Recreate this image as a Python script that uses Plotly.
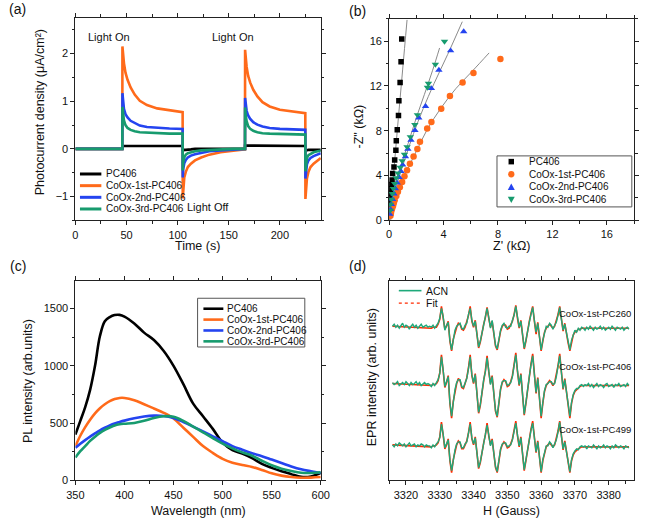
import numpy as np
import plotly.graph_objects as go

# ---------------- (a) photocurrent ----------------
t_s = [0, 45.9, 46, 46.5, 47.5, 49, 51, 54, 58, 63, 70, 80, 92, 104.9, 105, 105.5, 106.5, 108, 110, 113,
       117, 123, 131, 142, 155, 165.9, 166, 166.5, 167.5, 169, 171, 174, 178, 183, 190, 200, 212, 224.9,
       225, 225.5, 226.5, 228, 230, 233, 237, 240]
j_pc406 = [0, 0, 0.06, 0.06, 0.06, 0.06, 0.06, 0.06, 0.06, 0.06, 0.06, 0.06, 0.06, 0.06,
           -0.04, -0.03, -0.02, -0.02, -0.01, -0.01, 0, 0, 0, 0, 0, 0,
           0.07, 0.07, 0.07, 0.07, 0.07, 0.07, 0.07, 0.07, 0.07, 0.07, 0.06, 0.06,
           -0.04, -0.03, -0.03, -0.02, -0.02, -0.02, -0.02, -0.02]
j_1st = [0, 0, 2.15, 1.98, 1.80, 1.60, 1.45, 1.29, 1.14, 1.01, 0.92, 0.85, 0.81, 0.77,
         -1.04, -0.80, -0.60, -0.48, -0.38, -0.31, -0.24, -0.18, -0.12, -0.07, -0.03, -0.01,
         2.08, 1.90, 1.72, 1.53, 1.39, 1.24, 1.10, 0.98, 0.89, 0.82, 0.78, 0.75,
         -1.05, -0.82, -0.62, -0.48, -0.38, -0.31, -0.24, -0.19]
j_2nd = [0, 0, 1.17, 1.00, 0.84, 0.73, 0.66, 0.59, 0.54, 0.49, 0.46, 0.44, 0.43, 0.42,
         -0.60, -0.42, -0.30, -0.23, -0.18, -0.14, -0.11, -0.08, -0.05, -0.03, -0.01, 0,
         1.07, 0.93, 0.80, 0.70, 0.63, 0.56, 0.51, 0.47, 0.44, 0.42, 0.41, 0.40,
         -0.62, -0.44, -0.32, -0.24, -0.19, -0.15, -0.11, -0.09]
j_3rd = [0, 0, 0.88, 0.74, 0.60, 0.50, 0.44, 0.40, 0.37, 0.35, 0.34, 0.33, 0.32, 0.32,
         -0.45, -0.28, -0.18, -0.12, -0.09, -0.07, -0.05, -0.03, -0.02, -0.01, 0, 0,
         0.87, 0.72, 0.58, 0.48, 0.42, 0.38, 0.35, 0.33, 0.32, 0.31, 0.30, 0.30,
         -0.47, -0.30, -0.19, -0.13, -0.10, -0.07, -0.05, -0.04]

series_names = ["PC406", "CoOx-1st-PC406", "CoOx-2nd-PC406", "CoOx-3rd-PC406"]

# ---------------- (b) Nyquist ----------------
zr_pc406 = [0.93, 0.88, 0.81, 0.72, 0.69, 0.60, 0.53, 0.50, 0.41, 0.36, 0.26, 0.22, 0.17, 0.12, 0.09, 0.07, 0.05, 0.04]
zi_pc406 = [16.2, 14.16, 12.3, 10.68, 9.36, 8.09, 7.1, 6.24, 5.38, 4.74, 4.18, 3.59, 3.18, 2.8, 2.4, 2.0, 1.6, 1.2]
zr_1st = [8.18, 6.2, 5.4, 4.47, 3.83, 3.11, 2.8, 2.27, 2.08, 1.8, 1.53, 1.32, 1.13, 0.96, 0.79, 0.65, 0.53, 0.41,
          0.34, 0.29, 0.22, 0.17, 0.13, 0.1]
zi_1st = [14.4, 13.15, 12.3, 11.1, 9.95, 8.77, 8.2, 7.0, 6.35, 5.68, 5.05, 4.47, 3.92, 3.42, 2.95, 2.53, 2.15, 1.77,
          1.5, 1.27, 1.05, 0.83, 0.6, 0.39]
zr_2nd = [5.48, 4.52, 3.66, 3.11, 2.68, 2.18, 1.9, 1.61, 1.38, 1.2, 1.0, 0.88, 0.74, 0.6, 0.46, 0.36, 0.26, 0.17, 0.1, 0.05]
zi_2nd = [16.86, 15.15, 13.42, 11.77, 10.18, 9.15, 8.03, 7.15, 6.35, 5.68, 4.94, 4.36, 3.83, 3.33, 2.82, 2.36, 1.85,
          1.41, 0.97, 0.53]
zr_3rd = [4.07, 3.4, 2.89, 2.82, 2.08, 1.89, 1.56, 1.32, 1.13, 0.96, 0.81, 0.65, 0.53, 0.41, 0.31, 0.24, 0.17, 0.1, 0.09]
zi_3rd = [15.98, 13.92, 12.22, 11.86, 9.42, 8.53, 7.45, 6.56, 5.89, 5.3, 4.71, 4.21, 3.77, 3.27, 2.82, 2.36, 1.85,
          1.41, 0.88]
fit_pc406_x = [0.04, 0.36, 0.68, 1.0, 1.32]
fit_pc406_y = [0, 4.6, 9.1, 13.5, 17.9]
fit_1st_x = [0.12, 0.4, 0.8, 1.3, 2.0, 2.8, 3.8, 4.9, 6.1, 7.35]
fit_1st_y = [0, 1.7, 2.95, 4.4, 6.15, 8.1, 10.0, 11.75, 13.3, 14.95]
fit_2nd_x = [0.02, 0.3, 0.7, 1.2, 1.8, 2.5, 3.3, 4.3, 5.38]
fit_2nd_y = [0, 2.0, 3.7, 5.6, 7.75, 9.95, 12.2, 14.8, 17.74]
fit_3rd_x = [0.02, 0.2, 0.5, 0.9, 1.4, 2.0, 2.6, 3.2, 3.71]
fit_3rd_y = [0, 1.9, 3.55, 5.0, 6.85, 9.15, 11.25, 13.4, 15.39]

# ---------------- (c) PL ----------------
wl = [350, 355, 360, 365, 370, 375, 380, 385, 390, 395, 400, 410, 420, 430, 440, 450, 460, 470, 480, 490,
      500, 510, 520, 530, 540, 550, 560, 570, 580, 590, 600]
pl_pc406 = [400, 520, 640, 790, 1000, 1260, 1390, 1425, 1443, 1445, 1430, 1370, 1290, 1225, 1130, 1000, 840, 670,
            560, 450, 330, 265, 235, 195, 145, 110, 80, 55, 32, 35, 65]
pl_1st = [300, 390, 465, 530, 585, 630, 665, 692, 710, 720, 720, 700, 665, 628, 590, 540, 460, 380, 300, 240,
          188, 155, 135, 118, 92, 62, 42, 30, 24, 25, 30]
pl_2nd = [285, 320, 352, 382, 410, 437, 460, 480, 497, 510, 522, 542, 558, 566, 563, 545, 510, 470, 428, 385,
          342, 300, 268, 238, 212, 182, 152, 122, 97, 80, 65]
pl_3rd = [200, 255, 300, 345, 382, 415, 442, 462, 480, 490, 495, 502, 520, 545, 560, 556, 520, 470, 420, 370,
          322, 280, 245, 215, 172, 132, 102, 82, 67, 65, 72]

# ---------------- (d) EPR ----------------
H_data = list(np.arange(3316.0, 3386.01, 0.5))           # 141 field points
H_fit = [3316.0] + list(np.arange(3327.0, 3372.01, 0.5)) + [3386.0]
epr_names = ["CoOx-1st-PC260", "CoOx-1st-PC406", "CoOx-1st-PC499"]
acn_pc260 = [2, 4, 1, 3, 0, 2, 5, 1, 3, 2, -1, 2, 4, 1, 3, 0, 2, 4, 1, 2, 3, 1,
             2, 1, 3, 0, 2, 5, 10, 20, 12, -2,
             3, 6, -12, -22, -12, -2, 2, 4, 5, 0,
             -1, 3, 5, 14, 20, 8, 2, 7, -5, -19,
             -13, -5, 5, 10, 20, 11, 0, 8, -6, -17,
             -21, -10, -2, 3, 5, 1, 0, 2, 2, 8,
             13, 22, 11, 1, 7, -6, -20, -12, -1, 6,
             14, 21, 8, -4, 5, -7, -22, -12, -3, 2,
             1, 5, 3, -1, 3, 6, 13, 21, 9, -2,
             4, -5, -14, -22, -12, -6, -2, -4, 0, -2,
             1,
             0, -2, 1, -1, 2, 0, -2, 1, -1, 0, 2, -1, 1, -2, 0, 1, -1, 2, 0, -2, 1, 0, -1, 1, -2, 0, 1, -1]
acn_pc406 = [3, 1, 2, 4, 0, 2, 3, 1, 4, 2, 0, 3, 1, 2, 4, 1, 3, 0, 2, 3, 1, 2,
             1, -1, 2, 0, 3, 6, 12, 29, 16, -1,
             4, 9, -17, -31, -17, -4, 3, 6, 6, -1,
             -2, 3, 7, 17, 29, 11, 3, 11, -7, -27,
             -19, -6, 6, 14, 28, 15, 1, 9, -9, -25,
             -31, -14, -3, 4, 5, 5, 0, 1, 3, 9,
             19, 31, 15, 1, 11, -9, -29, -17, -2, 9,
             21, 30, 11, -7, 7, -11, -31, -17, -5, 1,
             2, 4, 4, 1, 2, 9, 19, 30, 13, -3,
             6, -7, -21, -31, -17, -9, -5, -3, -3, 0,
             1,
             -1, 1, 0, 2, -1, 1, -2, 0, 2, -1, 1, 0, -2, 1, 2, -1, 0, 1, -2, 1, 0, 2, -1, 0, 1, -1, 2, 0]
acn_pc499 = [2, 0, 3, 1, 4, 2, 1, 3, 0, 2, 4, 1, 2, 3, 0, 2, 1, 3, 2, 0, 2, 1,
             1, -1, 2, 0, 3, 5, 9, 23, 13, -1,
             3, 7, -13, -24, -14, -3, 3, 5, 5, -1,
             -1, 3, 5, 13, 23, 9, 3, 9, -5, -21,
             -15, -5, 5, 11, 22, 12, 1, 7, -7, -20,
             -25, -11, -2, 3, 4, 4, 0, 1, 2, 7,
             15, 24, 12, 1, 9, -7, -23, -13, -1, 7,
             17, 24, 9, -5, 5, -9, -25, -13, -4, 1,
             1, 5, 3, -1, 3, 7, 15, 25, 11, -2,
             5, -5, -17, -25, -13, -7, -4, -2, -3, 0,
             1,
             0, 1, -2, 1, 0, -1, 2, 0, -2, 1, -1, 0, 2, -1, 1, 0, -2, 1, -1, 2, 0, -1, 1, 0, -2, 1, 0, -1]
fit_pc260 = [2,
             0, 0, 1, 1, 1, 4, 9, 22, 11, -1,
             2, 7, -13, -23, -11, -4, 1, 5, 4, -1,
             -2, 1, 6, 13, 22, 7, 1, 8, -6, -20,
             -14, -4, 4, 11, 21, 10, 1, 7, -7, -18,
             -22, -11, -3, 2, 4, 3, -1, 0, 3, 7,
             14, 23, 10, 0, 8, -7, -21, -13, -2, 7,
             15, 22, 7, -6, 6, -8, -23, -13, -4, 0,
             2, 4, 2, 0, 2, 7, 14, 22, 8, -3,
             5, -6, -15, -23, -13, -7, -4, -3, -1, -1,
             0, 0]
fit_pc406 = [2,
             0, 0, 1, 1, 2, 5, 13, 31, 15, -2,
             3, 10, -18, -33, -16, -5, 2, 7, 5, -2,
             -3, 2, 8, 18, 31, 10, 2, 12, -8, -28,
             -20, -5, 5, 15, 30, 14, 2, 10, -10, -26,
             -32, -15, -4, 3, 6, 4, -1, 0, 4, 10,
             20, 33, 14, 0, 12, -10, -30, -18, -3, 10,
             22, 32, 10, -8, 8, -12, -33, -18, -6, 0,
             3, 5, 3, 0, 3, 10, 20, 32, 12, -4,
             7, -8, -22, -33, -18, -10, -6, -4, -2, -1,
             0, 0]
fit_pc499 = [2,
             0, 0, 1, 1, 2, 4, 10, 25, 12, -2,
             2, 8, -14, -26, -13, -4, 2, 6, 4, -2,
             -2, 2, 6, 14, 25, 8, 2, 10, -6, -22,
             -16, -4, 4, 12, 24, 11, 2, 8, -8, -21,
             -26, -12, -3, 2, 5, 3, -1, 0, 3, 8,
             16, 26, 11, 0, 10, -8, -24, -14, -2, 8,
             18, 26, 8, -6, 6, -10, -26, -14, -5, 0,
             2, 4, 2, 0, 2, 8, 16, 26, 10, -3,
             6, -6, -18, -26, -14, -8, -5, -3, -2, -1,
             0, 0]

# ---------------- styling ----------------
W, Hh = 645, 525
FONT = "Liberation Sans, Arial, sans-serif"
C_BLACK, C_ORANGE, C_BLUE, C_GREEN = "#000000", "#FF6A1A", "#2444F0", "#179B6E"
C_ACN, C_FIT = "#1EA97A", "#FF2A00"
colors = [C_BLACK, C_ORANGE, C_BLUE, C_GREEN]
epr_offsets = [154, 96, 34]


def px(x):
    return x / W


def py(y):
    return 1 - y / Hh


fig = go.Figure()

# (a)
for name, yv, c in zip(series_names, [j_pc406, j_1st, j_2nd, j_3rd], colors):
    fig.add_trace(go.Scatter(x=t_s, y=yv, mode="lines", name=name, line=dict(color=c, width=2.6),
                             xaxis="x", yaxis="y", showlegend=False))
# (b)
fits_b = [(fit_pc406_x, fit_pc406_y), (fit_1st_x, fit_1st_y), (fit_2nd_x, fit_2nd_y), (fit_3rd_x, fit_3rd_y)]
for fx, fy in fits_b:
    fig.add_trace(go.Scatter(x=fx, y=fy, mode="lines", line=dict(color="#8a8a8a", width=1, shape="spline"),
                             xaxis="x2", yaxis="y2", showlegend=False))
symbols = ["square", "circle", "triangle-up", "triangle-down"]
sizes = [5.5, 6.5, 6.5, 6.5]
for name, zx, zy, c, s, sz in zip(series_names, [zr_pc406, zr_1st, zr_2nd, zr_3rd],
                                  [zi_pc406, zi_1st, zi_2nd, zi_3rd], colors, symbols, sizes):
    fig.add_trace(go.Scatter(x=zx, y=zy, mode="markers", name=name,
                             marker=dict(color=c, symbol=s, size=sz, line=dict(width=0)),
                             xaxis="x2", yaxis="y2", showlegend=False))
# (c)
for name, yv, c in zip(series_names, [pl_pc406, pl_1st, pl_2nd, pl_3rd], colors):
    fig.add_trace(go.Scatter(x=wl, y=yv, mode="lines", name=name, line=dict(color=c, width=2.6, shape="spline"),
                             xaxis="x3", yaxis="y3", showlegend=False))
# (d)
for fitv, dat, off in zip([fit_pc260, fit_pc406, fit_pc499], [acn_pc260, acn_pc406, acn_pc499], epr_offsets):
    fig.add_trace(go.Scatter(x=H_fit, y=np.array(fitv) + off, mode="lines", line=dict(color=C_FIT, width=1.6),
                             xaxis="x4", yaxis="y4", showlegend=False))
    fig.add_trace(go.Scatter(x=H_data, y=np.array(dat) + off, mode="lines", line=dict(color=C_ACN, width=1.4),
                             xaxis="x4", yaxis="y4", showlegend=False))

dom_xL = [px(68.3), px(320.7)]
dom_xR = [px(391), px(643)]
dom_yT = [py(223), py(18)]
dom_yB = [py(486), py(284.3)]

axis_common = dict(showline=True, linecolor="#222", linewidth=1, mirror="ticks", ticks="outside", ticklen=4,
                   tickcolor="#222", showgrid=False, zeroline=False,
                   tickfont=dict(family=FONT, size=11, color="#111"))


def ax(**kw):
    d = dict(axis_common)
    d.update(kw)
    return d


fig.update_layout(
    width=W, height=Hh, autosize=False, margin=dict(l=0, r=0, t=0, b=0),
    paper_bgcolor="white", plot_bgcolor="white", showlegend=False,
    font=dict(family=FONT, size=11, color="#111"),
    xaxis=ax(domain=dom_xL, anchor="y", range=[0, 240], dtick=50, tick0=0,
             minor=dict(dtick=25, ticklen=2.5, ticks="outside", tickcolor="#222")),
    yaxis=ax(domain=dom_yT, anchor="x", range=[-1.5, 2.75], dtick=1, tick0=0,
             minor=dict(dtick=0.5, ticklen=2.5, ticks="outside", tickcolor="#222")),
    xaxis2=ax(domain=dom_xR, anchor="y2", range=[0, 18], dtick=4, tick0=0,
              minor=dict(dtick=2, ticklen=2.5, ticks="outside", tickcolor="#222")),
    yaxis2=ax(domain=[py(222.7), py(19)], anchor="x2", range=[0, 18], dtick=4, tick0=0,
              minor=dict(dtick=2, ticklen=2.5, ticks="outside", tickcolor="#222")),
    xaxis3=ax(domain=dom_xL, anchor="y3", range=[350, 600], dtick=50, tick0=350,
              minor=dict(dtick=25, ticklen=2.5, ticks="outside", tickcolor="#222")),
    yaxis3=ax(domain=dom_yB, anchor="x3", range=[0, 1740], dtick=500, tick0=0,
              minor=dict(dtick=250, ticklen=2.5, ticks="outside", tickcolor="#222")),
    xaxis4=ax(domain=dom_xR, anchor="y4", range=[3315, 3387.5], dtick=10, tick0=3320,
              minor=dict(dtick=5, ticklen=2.5, ticks="outside", tickcolor="#222")),
    yaxis4=ax(domain=dom_yB, anchor="x4", range=[0, 201.7], showticklabels=False, ticks=""),
)

ann = []
shapes = []


def text(x, y, s, size=11, xanchor="center", angle=0, yanchor="middle"):
    ann.append(dict(x=px(x), y=py(y), xref="paper", yref="paper", text=s, showarrow=False,
                    xanchor=xanchor, yanchor=yanchor, textangle=angle,
                    font=dict(family=FONT, size=size, color="#111")))


# panel labels
for lab, x, y in [("(a)", 9, 9), ("(b)", 358, 11), ("(c)", 9, 269), ("(d)", 358, 269)]:
    text(x, y, lab, size=14)

# axis titles
text(31.5, 114, "Photocurrent density (μA/cm²)", size=12.5, angle=-90)
text(194, 249, "Time (s)", size=12.5)
text(360, 128, "-Z\" (kΩ)", size=12.5, angle=-90)
text(517, 249, "Z' (kΩ)", size=12.5)
text(19, 385, "PL intensity (arb.units)", size=12.5, angle=-90)
text(195, 517, "Wavelength (nm)", size=12.5)
text(373, 382, "EPR intensity (arb. units)", size=12.5, angle=-90)
text(517, 517, "H (Gauss)", size=12.5)

# (a) annotations in data coords
for s, x, y in [("Light On", 33.3, 2.35), ("Light On", 154, 2.35), ("Light Off", 130, -1.22)]:
    ann.append(dict(x=x, y=y, xref="x", yref="y", text=s, showarrow=False,
                    font=dict(family=FONT, size=11, color="#111")))

# (a) legend
for i, (name, c) in enumerate(zip(series_names, colors)):
    yy = 176 + i * 11.8
    shapes.append(dict(type="line", xref="paper", yref="paper", x0=px(73), x1=px(95), y0=py(yy), y1=py(yy),
                       line=dict(color=c, width=3)))
    text(97.5, yy, name, size=10, xanchor="left")

# (b) legend
shapes.append(dict(type="rect", xref="paper", yref="paper", x0=px(502), x1=px(640.7), y0=py(209.3), y1=py(157.7),
                   line=dict(color="#555", width=1)))
for i, (name, c) in enumerate(zip(series_names, colors)):
    yy = 163.5 + i * 12.8
    xc = 516.7
    r = 2.8
    if i == 0:
        shapes.append(dict(type="rect", xref="paper", yref="paper", x0=px(xc - r), x1=px(xc + r),
                           y0=py(yy + r), y1=py(yy - r), fillcolor=c, line=dict(width=0)))
    elif i == 1:
        shapes.append(dict(type="circle", xref="paper", yref="paper", x0=px(xc - 3.2), x1=px(xc + 3.2),
                           y0=py(yy + 3.2), y1=py(yy - 3.2), fillcolor=c, line=dict(width=0)))
    elif i == 2:
        path = f"M {px(xc - 3.6)},{py(yy + 3)} L {px(xc + 3.6)},{py(yy + 3)} L {px(xc)},{py(yy - 3.5)} Z"
        shapes.append(dict(type="path", xref="paper", yref="paper", path=path, fillcolor=c, line=dict(width=0)))
    else:
        path = f"M {px(xc - 3.6)},{py(yy - 3)} L {px(xc + 3.6)},{py(yy - 3)} L {px(xc)},{py(yy + 3.5)} Z"
        shapes.append(dict(type="path", xref="paper", yref="paper", path=path, fillcolor=c, line=dict(width=0)))
    text(533, yy, name, size=10, xanchor="left")

# (c) legend
shapes.append(dict(type="rect", xref="paper", yref="paper", x0=px(194), x1=px(304.3), y0=py(351), y1=py(301.7),
                   line=dict(color="#555", width=1)))
for i, (name, c) in enumerate(zip(series_names, colors)):
    yy = 312.3 + i * 11
    shapes.append(dict(type="line", xref="paper", yref="paper", x0=px(200), x1=px(220.5), y0=py(yy), y1=py(yy),
                       line=dict(color=c, width=2.6)))
    text(222.7, yy, name, size=10, xanchor="left")

# (d) legend and labels
shapes.append(dict(type="line", xref="paper", yref="paper", x0=px(401), x1=px(424.3), y0=py(294), y1=py(294),
                   line=dict(color=C_ACN, width=1.6)))
shapes.append(dict(type="line", xref="paper", yref="paper", x0=px(401), x1=px(424.3), y0=py(306.7), y1=py(306.7),
                   line=dict(color=C_FIT, width=1.3, dash="dot")))
text(427.3, 294, "ACN", size=10.5, xanchor="left")
text(427.3, 306.7, "Fit", size=10.5, xanchor="left")
for name, yy in zip(epr_names, [316.7, 371, 434]):
    text(642, yy, name, size=9.5, xanchor="right")

fig.update_layout(annotations=ann, shapes=shapes)
fig.write_html("out.html", config={"displayModeBar": False},
               post_script="document.body.style.margin='0';document.body.style.padding='0';")
